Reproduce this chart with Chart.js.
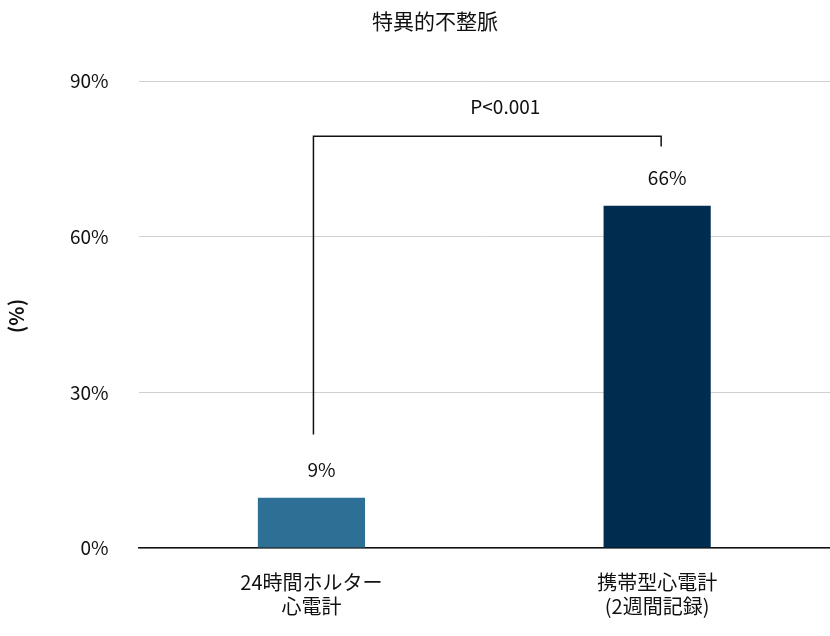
<!DOCTYPE html>
<html>
<head>
<meta charset="utf-8">
<script src="https://cdn.jsdelivr.net/npm/chart.js@4"></script>
<style>
  html, body { margin: 0; padding: 0; background: #fff; }
  #wrap { width: 830px; height: 636px; position: relative; }
</style>
</head>
<body>
<div id="wrap"><canvas id="chart" width="830" height="636"></canvas></div>
<script>
const categories = [['24時間ホルター', '心電計'], ['携帯型心電計', '(2週間記録)']];
const values = [9.7, 66];
const valueLabels = ['9%', '66%'];
const barColors = ['#2e6f96', '#002d4f'];
const yTicks = [0, 30, 60, 90];
const pLabel = 'P<0.001';
// bracket heights in axis units (left foot, top, right foot)
const bracket = [21.9, 79.4, 77.4];

const FONT = "'Noto Sans CJK JP', 'Noto Sans', sans-serif";

const annotate = {
    id: 'annotate',
    afterDatasetsDraw(chart) {
        const {ctx, scales: {x, y}} = chart;
        ctx.save();
        ctx.fillStyle = '#111';
        ctx.font = `19px ${FONT}`;
        ctx.textAlign = 'center';
        ctx.textBaseline = 'middle';
        // value labels above bars
        values.forEach((v, i) => {
            ctx.fillText(valueLabels[i], x.getPixelForValue(i) + 10, y.getPixelForValue(v) - 28);
        });
        // significance bracket
        const x0 = x.getPixelForValue(0) + 2, x1 = x.getPixelForValue(1) + 4;
        ctx.strokeStyle = '#111';
        ctx.lineWidth = 1.5;
        ctx.beginPath();
        ctx.moveTo(x0, y.getPixelForValue(bracket[0]));
        ctx.lineTo(x0, y.getPixelForValue(bracket[1]));
        ctx.lineTo(x1, y.getPixelForValue(bracket[1]));
        ctx.lineTo(x1, y.getPixelForValue(bracket[2]));
        ctx.stroke();
        ctx.fillText(pLabel, (x0 + x1) / 2 + 18, y.getPixelForValue(85));
        // y axis title
        ctx.translate(16, 316);
        ctx.rotate(-Math.PI / 2);
        ctx.font = `bold 20px ${FONT}`;
        ctx.fillText('(%)', 0, 0);
        ctx.restore();
    }
};

new Chart(document.getElementById('chart'), {
    type: 'bar',
    data: {
        labels: categories,
        datasets: [{
            data: values,
            backgroundColor: barColors,
            barPercentage: 0.62,
            categoryPercentage: 0.5
        }]
    },
    options: {
        responsive: false,
        animation: false,
        devicePixelRatio: 1,
        layout: { padding: { left: 40, right: 0, top: 6, bottom: 4 } },
        plugins: {
            legend: { display: false },
            tooltip: { enabled: false },
            title: {
                display: true,
                text: '特異的不整脈',
                color: '#111',
                font: { family: FONT, size: 21, weight: 'normal' },
                padding: { top: 2, bottom: 48 }
            }
        },
        scales: {
            x: {
                grid: { display: false },
                border: { color: '#111', width: 1.5 },
                ticks: { color: '#111', font: { family: FONT, size: 20 }, padding: 14 }
            },
            y: {
                min: 0, max: 90,
                afterBuildTicks(axis) { axis.ticks = yTicks.map(v => ({value: v})); },
                grid: { color: '#d0d0d0', drawTicks: false },
                border: { display: false },
                ticks: {
                    color: '#111', padding: 30,
                    font: { family: FONT, size: 19 },
                    callback: v => v + '%'
                }
            }
        }
    },
    plugins: [annotate]
});
</script>
</body>
</html>
